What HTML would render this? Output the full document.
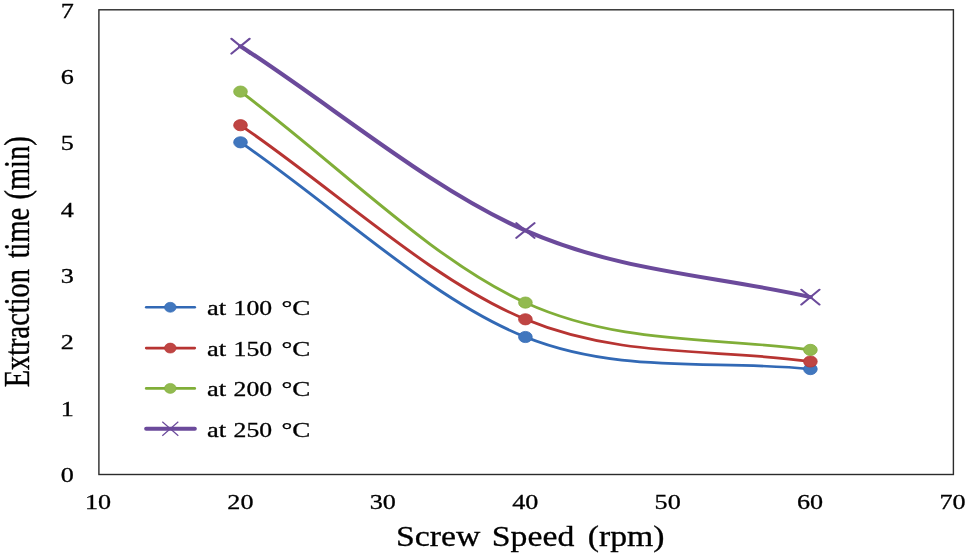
<!DOCTYPE html>
<html><head><meta charset="utf-8"><title>Extraction time vs screw speed</title>
<style>
html,body{margin:0;padding:0;background:#fff;}
body{width:968px;height:556px;overflow:hidden;}
svg{display:block;will-change:transform;opacity:0.999;}
text{font-family:"Liberation Serif",serif;fill:#000;stroke:#000;stroke-width:0.3px;}
</style></head><body>
<svg width="968" height="556" viewBox="0 0 968 556">
<rect x="0" y="0" width="968" height="556" fill="#ffffff"/>
<rect x="98.90" y="9.80" width="854.50" height="464.70" fill="none" stroke="#2b2b2b" stroke-width="1.4"/>
<text transform="translate(73.9,482.20) scale(1.200,1)" font-size="21.8" text-anchor="end">0</text>
<text transform="translate(73.9,415.81) scale(1.200,1)" font-size="21.8" text-anchor="end">1</text>
<text transform="translate(73.9,349.43) scale(1.200,1)" font-size="21.8" text-anchor="end">2</text>
<text transform="translate(73.9,283.04) scale(1.200,1)" font-size="21.8" text-anchor="end">3</text>
<text transform="translate(73.9,216.66) scale(1.200,1)" font-size="21.8" text-anchor="end">4</text>
<text transform="translate(73.9,150.27) scale(1.200,1)" font-size="21.8" text-anchor="end">5</text>
<text transform="translate(73.9,83.89) scale(1.200,1)" font-size="21.8" text-anchor="end">6</text>
<text transform="translate(73.9,17.50) scale(1.200,1)" font-size="21.8" text-anchor="end">7</text>
<text transform="translate(98.00,509.0) scale(1.200,1)" font-size="21.8" text-anchor="middle">10</text>
<text transform="translate(240.42,509.0) scale(1.200,1)" font-size="21.8" text-anchor="middle">20</text>
<text transform="translate(382.83,509.0) scale(1.200,1)" font-size="21.8" text-anchor="middle">30</text>
<text transform="translate(525.25,509.0) scale(1.200,1)" font-size="21.8" text-anchor="middle">40</text>
<text transform="translate(667.67,509.0) scale(1.200,1)" font-size="21.8" text-anchor="middle">50</text>
<text transform="translate(810.08,509.0) scale(1.200,1)" font-size="21.8" text-anchor="middle">60</text>
<text transform="translate(952.50,509.0) scale(1.200,1)" font-size="21.8" text-anchor="middle">70</text>
<text transform="translate(396.00,546.2) scale(1.168,1)" font-size="28.9">Screw</text>
<text transform="translate(491.80,546.2) scale(1.168,1)" font-size="28.9">Speed</text>
<text transform="translate(587.70,546.2) scale(1.168,1)" font-size="28.9">(rpm)</text>
<text transform="translate(28.70,387.35) rotate(-90) scale(1,1.230)" font-size="28.4">Extraction</text>
<text transform="translate(28.70,258.30) rotate(-90) scale(1,1.230)" font-size="28.4">time</text>
<text transform="translate(28.70,199.50) rotate(-90) scale(1,1.230)" font-size="28.4">(min)</text>
<g transform="scale(1.220,1)">
<path d="M197.13,142.30 C274.97,207.20 352.80,299.20 430.66,337.00 C508.51,374.80 586.39,359.20 664.26,369.10" fill="none" stroke="#3269B5" stroke-width="2.70" stroke-linecap="round" stroke-linejoin="round"/>
<circle cx="197.13" cy="142.30" r="5.6" fill="#4177BE" stroke="#3269B5" stroke-width="0.7"/>
<circle cx="430.66" cy="337.00" r="5.6" fill="#4177BE" stroke="#3269B5" stroke-width="0.7"/>
<circle cx="664.26" cy="369.10" r="5.6" fill="#4177BE" stroke="#3269B5" stroke-width="0.7"/>
<path d="M197.13,125.20 C274.97,189.90 352.80,279.92 430.66,319.30 C508.51,358.68 586.39,348.23 664.26,361.50" fill="none" stroke="#B73432" stroke-width="2.70" stroke-linecap="round" stroke-linejoin="round"/>
<circle cx="197.13" cy="125.20" r="5.6" fill="#BF4543" stroke="#B73432" stroke-width="0.7"/>
<circle cx="430.66" cy="319.30" r="5.6" fill="#BF4543" stroke="#B73432" stroke-width="0.7"/>
<circle cx="664.26" cy="361.50" r="5.6" fill="#BF4543" stroke="#B73432" stroke-width="0.7"/>
<path d="M197.13,91.60 C274.97,161.93 352.80,259.55 430.66,302.60 C508.51,345.65 586.39,336.73 664.26,349.90" fill="none" stroke="#80AE38" stroke-width="2.70" stroke-linecap="round" stroke-linejoin="round"/>
<circle cx="197.13" cy="91.60" r="5.6" fill="#92BA50" stroke="#80AE38" stroke-width="0.7"/>
<circle cx="430.66" cy="302.60" r="5.6" fill="#92BA50" stroke="#80AE38" stroke-width="0.7"/>
<circle cx="664.26" cy="349.90" r="5.6" fill="#92BA50" stroke="#80AE38" stroke-width="0.7"/>
<path d="M197.13,46.20 C274.97,107.63 352.80,188.68 430.66,230.50 C508.51,272.32 586.39,275.50 664.26,297.10" fill="none" stroke="#6B4A9B" stroke-width="3.90" stroke-linecap="round" stroke-linejoin="round"/>
<path d="M189.68,38.75 L204.58,53.65 M189.68,53.65 L204.58,38.75" stroke="#6B4A9B" stroke-width="1.9" fill="none" stroke-linecap="round"/>
<path d="M423.21,223.05 L438.11,237.95 M423.21,237.95 L438.11,223.05" stroke="#6B4A9B" stroke-width="1.9" fill="none" stroke-linecap="round"/>
<path d="M656.81,289.65 L671.71,304.55 M656.81,304.55 L671.71,289.65" stroke="#6B4A9B" stroke-width="1.9" fill="none" stroke-linecap="round"/>
</g>
<line x1="146.2" y1="307.30" x2="194.8" y2="307.30" stroke="#3269B5" stroke-width="2.6" stroke-linecap="round"/>
<ellipse cx="170.3" cy="307.30" rx="5.8" ry="5.0" fill="#4177BE" stroke="#3269B5" stroke-width="0.6"/>
<text transform="translate(207.00,315.10) scale(1.249,1)" font-size="21.2">at</text>
<text transform="translate(233.60,315.10) scale(1.212,1)" font-size="21.2">100</text>
<text transform="translate(281.45,315.10) scale(1.277,1)" font-size="21.2">°C</text>
<line x1="146.2" y1="348.10" x2="194.8" y2="348.10" stroke="#B73432" stroke-width="2.6" stroke-linecap="round"/>
<ellipse cx="170.3" cy="348.10" rx="5.8" ry="5.0" fill="#BF4543" stroke="#B73432" stroke-width="0.6"/>
<text transform="translate(207.00,355.90) scale(1.249,1)" font-size="21.2">at</text>
<text transform="translate(233.60,355.90) scale(1.212,1)" font-size="21.2">150</text>
<text transform="translate(281.45,355.90) scale(1.277,1)" font-size="21.2">°C</text>
<line x1="146.2" y1="388.40" x2="194.8" y2="388.40" stroke="#80AE38" stroke-width="2.6" stroke-linecap="round"/>
<ellipse cx="170.3" cy="388.40" rx="5.8" ry="5.0" fill="#92BA50" stroke="#80AE38" stroke-width="0.6"/>
<text transform="translate(207.00,396.20) scale(1.249,1)" font-size="21.2">at</text>
<text transform="translate(233.60,396.20) scale(1.212,1)" font-size="21.2">200</text>
<text transform="translate(281.45,396.20) scale(1.277,1)" font-size="21.2">°C</text>
<line x1="146.2" y1="428.70" x2="194.8" y2="428.70" stroke="#6B4A9B" stroke-width="4.1" stroke-linecap="round"/>
<path d="M162.30,421.70 L178.30,435.70 M162.30,435.70 L178.30,421.70" stroke="#6B4A9B" stroke-width="1.2" fill="none"/>
<text transform="translate(207.00,436.50) scale(1.249,1)" font-size="21.2">at</text>
<text transform="translate(233.60,436.50) scale(1.212,1)" font-size="21.2">250</text>
<text transform="translate(281.45,436.50) scale(1.277,1)" font-size="21.2">°C</text>
</svg></body></html>
